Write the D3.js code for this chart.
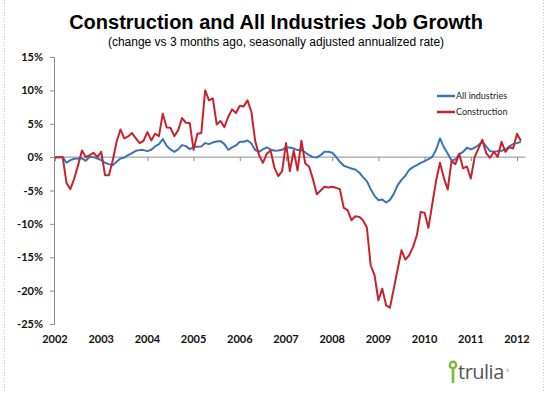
<!DOCTYPE html>
<html>
<head>
<meta charset="utf-8">
<script src="https://cdn.jsdelivr.net/npm/d3@7"></script>
<style>
  html, body { margin: 0; padding: 0; background: #fff; }
  svg { display: block; }
  .tick-lbl { font-family: Lato, "Liberation Sans", sans-serif; font-weight: 700; font-size: 11px; fill: #111; }
</style>
</head>
<body>
<div id="chart"></div>
<script>
// Monthly series, Jan 2002 .. Feb 2012 (annualized % change vs 3 months ago)
const startYear = 2002;
const yearLabels = ['2002', '2003', '2004', '2005', '2006', '2007', '2008', '2009', '2010', '2011', '2012'];
const yTicks = [15, 10, 5, 0, -5, -10, -15, -20, -25];

const allIndustries = [
  0, 0, 0, -0.85, -0.45, -0.25, -0.2, -0.2, -0.55, 0.05, 0, -0.2,
  -0.45, -0.85, -1.05, -1.2, -0.7, -0.2, -0.05, 0.3, 0.6, 0.95, 1.05, 1.05,
  0.9, 1.1, 1.6, 1.95, 2.7, 1.7, 1.15, 0.8, 1.15, 1.8, 1.65, 1.2,
  1.5, 1.55, 1.6, 2.1, 1.95, 2.2, 2.35, 2.4, 1.95, 1.1, 1.45, 1.75,
  2.3, 2.3, 2.5, 2.05, 1.05, 0.8, 1.15, 1.45, 1.15, 0.95, 1.0, 1.1,
  1.45, 1.45, 1.3, 1.05, 1.05, 0.7, 0.3, 0.0, -0.05, 0.3, 0.8, 0.8,
  0.65, 0.05, -0.7, -1.3, -1.5, -1.7, -1.85, -2.3, -3.0, -3.6, -4.8, -5.8,
  -6.45, -6.35, -6.8, -6.4, -5.5, -4.2, -3.4, -2.8, -1.9, -1.5, -1.2, -0.85,
  -0.6, -0.3, 0.05, 1.1, 2.8, 1.5, 0.55, -0.5, -0.35, 0.45, 0.8, 1.4,
  1.15, 1.4, 1.8, 2.3, 1.6, 0.9, 0.8, 0.9, 0.95, 1.15, 1.6, 1.95,
  2.1, 2.3
];

const construction = [
  0, 0, 0, -3.9, -4.8, -3.2, -1.2, 1.0, 0, 0.3, 0.65, 0,
  0.8, -2.7, -2.7, -0.5, 2.3, 4.15, 2.8, 3.1, 3.6, 2.8, 2.1, 2.45,
  3.75, 2.5, 3.5, 3.15, 6.5, 4.45, 4.4, 3.15, 4.05, 5.85, 5.15, 5.1,
  1.1, 3.5, 3.6, 10.0, 8.5, 8.8, 4.9, 5.4, 4.5, 6.05, 7.15, 6.6,
  7.7, 7.6, 8.5, 6.8, 2.4, 0.3, -0.85, 0.5, 1.0, -1.6, -2.85, -2.1,
  2.1, -2.1, 1.0, -2.0, 2.45, -0.95, -1.4, -3.3, -5.55, -5.0, -4.45, -4.55,
  -4.45, -4.6, -4.8, -7.6, -7.95, -9.45, -8.85, -8.95, -9.45, -10.55, -16.2, -17.7,
  -21.45, -19.7, -22.2, -22.55, -19.7, -16.8, -13.95, -15.35, -14.7, -13.45, -11.7, -8.2,
  -8.35, -10.6, -7.0, -3.5, -0.85, -3.1, -4.85, -0.6, -1.05, 0.5, -1.7, -1.4,
  -3.2, 0, 1.3, 2.6, 0.6, -0.1, 0.8, 0.05, 2.3, 0.8, 1.5, 1.3,
  3.5, 2.45
];

const seriesNames = ['All industries', 'Construction'];
const seriesColors = ['#3b73b9', '#c8232c'];

const W = 550, H = 393;
const svg = d3.select('#chart').append('svg').attr('width', W).attr('height', H);

// frame: dotted side edges
[4.5, 543.5].forEach((x) => {
  svg.append('line').attr('x1', x).attr('x2', x).attr('y1', 0).attr('y2', H)
    .attr('stroke', '#c8c8c8').attr('stroke-width', 1).attr('stroke-dasharray', '1,2');
});

// titles
svg.append('text').attr('x', 276).attr('y', 29).attr('text-anchor', 'middle')
  .style('font-family', '"Liberation Sans", Arial, sans-serif').style('font-weight', 700)
  .style('font-size', '20px').text('Construction and All Industries Job Growth');
svg.append('text').attr('x', 276).attr('y', 46).attr('text-anchor', 'middle')
  .style('font-family', '"Liberation Sans", Arial, sans-serif')
  .style('font-size', '12px').text('(change vs 3 months ago, seasonally adjusted annualized rate)');

const x = d3.scaleLinear().domain([0, 120]).range([55, 517]);
const y = d3.scaleLinear().domain([-25, 15]).range([324, 57]);
const xEnd = x(122.2);

// y axis
const ya = svg.append('g').attr('transform', `translate(${x(0) - 1},0)`)
  .call(d3.axisLeft(y).tickValues(yTicks).tickSize(4).tickPadding(7).tickFormat((d) => `${d}%`));
ya.select('.domain').attr('stroke', '#8c8c8c');
ya.selectAll('.tick line').attr('stroke', '#8c8c8c');
ya.selectAll('.tick text').attr('class', 'tick-lbl');

// zero line with year ticks
const yearIdx = yearLabels.map((d, i) => i * 12);
const xa = svg.append('g').attr('transform', `translate(0,${y(0)})`)
  .call(d3.axisBottom(x).tickValues(yearIdx).tickSize(4).tickFormat(''));
xa.select('.domain').attr('d', `M${x(0) - 1},0H${xEnd}`).attr('stroke', '#8c8c8c');
xa.selectAll('.tick line').attr('stroke', '#8c8c8c');

// year labels along the bottom
svg.append('g').selectAll('text').data(yearLabels).join('text')
  .attr('class', 'tick-lbl')
  .attr('x', (d, i) => x(yearIdx[i])).attr('y', 343).attr('text-anchor', 'middle')
  .text((d) => d);

// lines
const line = d3.line().x((d, i) => x(i)).y((d) => y(d));
[allIndustries, construction].forEach((s, k) => {
  svg.append('path').datum(s).attr('d', line)
    .attr('fill', 'none').attr('stroke', seriesColors[k]).attr('stroke-width', 2)
    .attr('stroke-linejoin', 'round');
});

// legend
const lg = svg.append('g').attr('transform', 'translate(437,96)');
seriesNames.forEach((n, k) => {
  const r = lg.append('g').attr('transform', `translate(0,${k * 16})`);
  r.append('line').attr('x1', 0).attr('x2', 18).attr('stroke', seriesColors[k]).attr('stroke-width', 2.5);
  r.append('text').attr('x', 19).attr('dy', '0.35em')
    .style('font-family', 'Lato, sans-serif').style('font-size', '9px').style('fill', '#222')
    .text(n);
});

// trulia mark
const logo = svg.append('g').attr('transform', 'translate(451,364)');
logo.append('line').attr('x1', 2).attr('x2', 2).attr('y1', 4).attr('y2', 18)
  .attr('stroke', '#78bd3a').attr('stroke-width', 2.6).attr('stroke-linecap', 'round');
logo.append('circle').attr('cx', 2).attr('cy', 1).attr('r', 3.2)
  .attr('fill', '#fff').attr('stroke', '#78bd3a').attr('stroke-width', 2.4);
logo.append('text').attr('x', 7).attr('y', 15)
  .style('font-family', '"Open Sans", sans-serif').style('font-size', '20px').style('fill', '#555')
  .style('letter-spacing', '-0.5px').text('trulia');
logo.append('text').attr('x', 55).attr('y', 8)
  .style('font-family', '"Open Sans", sans-serif').style('font-size', '4px').style('fill', '#777')
  .text('®');
</script>
</body>
</html>
